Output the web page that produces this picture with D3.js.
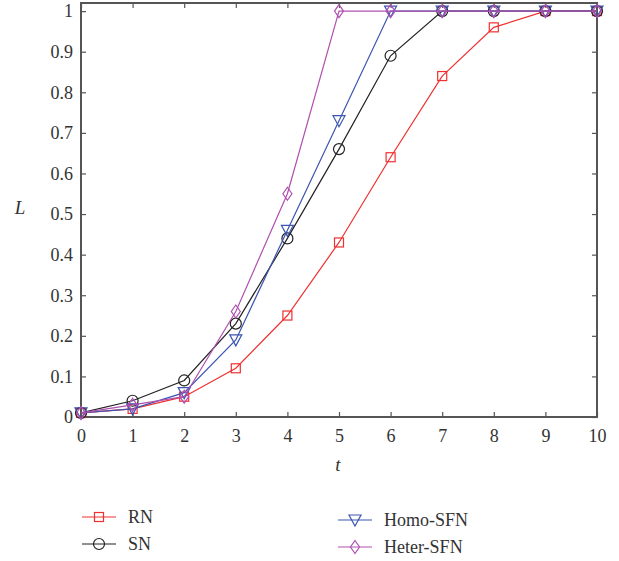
<!DOCTYPE html>
<html>
<head>
<meta charset="utf-8">
<script src="https://cdn.jsdelivr.net/npm/d3@7"></script>
<style>
  body { margin: 0; background: #fff; }
</style>
</head>
<body>
<div id="chart"></div>
<script>
const T = [0, 1, 2, 3, 4, 5, 6, 7, 8, 9, 10];
const RN = [0.01, 0.02, 0.05, 0.12, 0.25, 0.43, 0.64, 0.84, 0.96, 1.0, 1.0];
const SN = [0.01, 0.04, 0.09, 0.23, 0.44, 0.66, 0.89, 1.0, 1.0, 1.0, 1.0];
const HOMO = [0.01, 0.02, 0.06, 0.19, 0.46, 0.73, 1.0, 1.0, 1.0, 1.0, 1.0];
const HETER = [0.01, 0.03, 0.05, 0.26, 0.55, 1.0, 1.0, 1.0, 1.0, 1.0, 1.0];
const Y_TICKS = [0, 0.1, 0.2, 0.3, 0.4, 0.5, 0.6, 0.7, 0.8, 0.9, 1];

var FONT = "'Liberation Serif', 'DejaVu Serif', serif";

var margin = { top: 3, right: 22, bottom: 144, left: 81 },
  width = 619 - margin.left - margin.right,
  height = 561 - margin.top - margin.bottom;

var series = [
  { name: "RN", values: RN, color: "#f03030", marker: "square" },
  { name: "SN", values: SN, color: "#222222", marker: "circle" },
  { name: "Homo-SFN", values: HOMO, color: "#3c55b0", marker: "tri" },
  { name: "Heter-SFN", values: HETER, color: "#b050b0", marker: "diamond" }
];

var svg = d3.select("#chart").append("svg")
  .attr("width", 619).attr("height", 561)
  .attr("font-family", FONT);
var g = svg.append("g")
  .attr("transform", "translate(" + margin.left + "," + margin.top + ")");

var x = d3.scaleLinear().domain([0, 10]).range([0, width]);
var y = d3.scaleLinear().domain([0, 1.02]).range([height, 0]);

function styleAxis(sel) {
  sel.attr("font-family", FONT).attr("font-size", 18);
  sel.select(".domain").remove();
  sel.selectAll("line").attr("stroke", "#555").attr("stroke-width", 1.2);
  sel.selectAll("text").attr("fill", "#333");
}

g.append("g").attr("transform", "translate(0," + height + ")")
  .call(d3.axisBottom(x).tickValues(T).tickSize(-5).tickPadding(12).tickFormat(d3.format("d")))
  .call(styleAxis);
g.append("g")
  .call(d3.axisTop(x).tickValues(T).tickSize(-5).tickFormat(""))
  .call(styleAxis);
g.append("g")
  .call(d3.axisLeft(y).tickValues(Y_TICKS).tickSize(-5).tickPadding(8).tickFormat(function (d) { return d === 0 || d === 1 ? d : d3.format(".1f")(d); }))
  .call(styleAxis);
g.append("g").attr("transform", "translate(" + width + ",0)")
  .call(d3.axisRight(y).tickValues(Y_TICKS).tickSize(-5).tickFormat(""))
  .call(styleAxis);

g.append("rect").attr("width", width).attr("height", height)
  .attr("fill", "none").attr("stroke", "#555").attr("stroke-width", 2);

g.append("text").attr("x", 338 - margin.left).attr("y", 471 - margin.top)
  .attr("text-anchor", "middle").attr("font-style", "italic").attr("font-size", 19)
  .attr("fill", "#333").text("t");
g.append("text").attr("x", 20 - margin.left).attr("y", 214 - margin.top)
  .attr("text-anchor", "middle").attr("font-style", "italic").attr("font-size", 19)
  .attr("fill", "#333").text("L");

function drawMarker(sel, type, color) {
  sel.each(function () {
    var m = d3.select(this);
    if (type === "square") {
      m.append("rect").attr("x", -4.5).attr("y", -4.5).attr("width", 9).attr("height", 9);
    } else if (type === "circle") {
      m.append("circle").attr("r", 5.5);
    } else if (type === "tri") {
      m.append("path").attr("d", "M-6,-5L6,-5L0,6Z");
    } else {
      m.append("path").attr("d", "M0,-6.5L4.5,0L0,6.5L-4.5,0Z");
    }
    m.selectAll("*").attr("fill", "none").attr("stroke", color).attr("stroke-width", 1.2);
  });
}

var line = d3.line().x(function (d, i) { return x(T[i]); }).y(function (d) { return y(d); });

series.forEach(function (s) {
  g.append("path").datum(s.values)
    .attr("d", line).attr("fill", "none")
    .attr("stroke", s.color).attr("stroke-width", 1.2);
  g.selectAll(null).data(s.values).enter().append("g")
    .attr("transform", function (d, i) { return "translate(" + x(T[i]) + "," + y(d) + ")"; })
    .call(drawMarker, s.marker, s.color);
});

// legend
var legendPos = [[82, 517], [82, 544], [338, 520], [338, 547]];
series.forEach(function (s, i) {
  var p = legendPos[i];
  var lg = svg.append("g").attr("transform", "translate(" + p[0] + "," + p[1] + ")");
  lg.append("line").attr("x1", 0).attr("x2", 34).attr("stroke", s.color).attr("stroke-width", 1.2);
  lg.append("g").attr("transform", "translate(17,0)").call(drawMarker, s.marker, s.color);
  lg.append("text").attr("x", 46).attr("y", 6).attr("font-size", 18).attr("fill", "#333").text(s.name);
});
</script>
</body>
</html>
